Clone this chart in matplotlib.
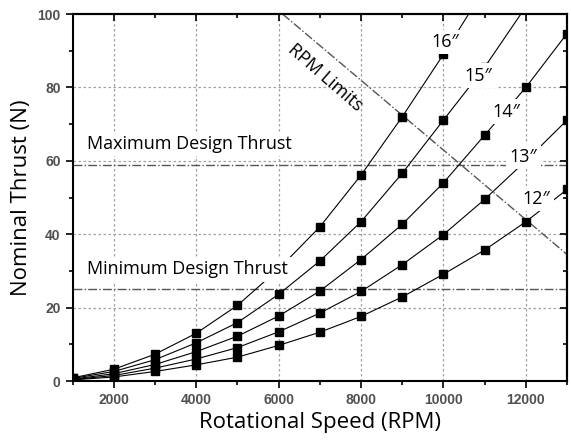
import matplotlib
matplotlib.use("Agg")
import matplotlib.pyplot as plt
import numpy as np

# rotational speed (RPM) and nominal thrust (N) per propeller size
rpm = [1000, 2000, 3000, 4000, 5000, 6000, 7000, 8000, 9000, 10000, 11000, 12000, 13000]
thrust_16 = [0.85, 3.2, 7.3, 13.0, 20.6, 30.5, 42.0, 56.1, 72.0, 89.0, 107.0]
thrust_15 = [0.7, 2.6, 5.8, 10.4, 15.9, 23.6, 32.7, 43.4, 56.6, 71.1, 85.5, 102.0]
thrust_14 = [0.5, 2.0, 4.5, 8.0, 12.2, 17.7, 24.5, 33.1, 42.7, 54.0, 67.0, 80.0, 94.7]
thrust_13 = [0.4, 1.5, 3.5, 6.0, 9.1, 13.4, 18.5, 24.4, 31.7, 39.9, 49.5, 60.0, 71.1]
thrust_12 = [0.3, 1.1, 2.6, 4.4, 6.5, 9.7, 13.3, 17.6, 22.9, 29.1, 35.7, 43.4, 52.2]

series = [thrust_12, thrust_13, thrust_14, thrust_15, thrust_16]
size_labels = ["12\u2033", "13\u2033", "14\u2033", "15\u2033", "16\u2033"]
label_pos = [(12262, 49.7), (11947, 61.1), (11534, 73.4), (10855, 83.2), (10041, 92.4)]

max_thrust = 59
min_thrust = 25
rpm_limit_x = [6100, 13000]
rpm_limit_y = [100, 34.5]

txt_font = ["Open Sans", "DejaVu Sans"]

fig = plt.figure(figsize=(5.71, 4.41), dpi=100)
ax = fig.add_axes([0.127, 0.136, 0.866, 0.832])

# grid
for gx in range(2000, 13000, 2000):
    ax.axvline(gx, color="#a0a0a0", lw=0.9, ls=(0, (2, 2)), zorder=0)
for gy in range(20, 100, 20):
    ax.axhline(gy, color="#a0a0a0", lw=0.9, ls=(0, (2, 2)), zorder=0)

# design thrust limits
ax.axhline(max_thrust, color="#555555", lw=1.0, ls="-.", zorder=1)
ax.axhline(min_thrust, color="#555555", lw=1.0, ls="-.", zorder=1)
ax.plot(rpm_limit_x, rpm_limit_y, color="#555555", lw=1.0, ls="-.", zorder=1)

for vals in series:
    ax.plot(rpm[:len(vals)], vals, color="black", lw=0.8, marker="s",
            ms=6, mfc="black", mec="black", zorder=2)

bbox = dict(facecolor="white", edgecolor="none", pad=2.5)
for lab, (lx, ly) in zip(size_labels, label_pos):
    ax.text(lx, ly, lab, family=txt_font, fontsize=13, ha="center", va="center",
            bbox=bbox, zorder=3)

ax.text(1350, 64.6, "Maximum Design Thrust", family=txt_font, fontsize=13,
        ha="left", va="center", bbox=bbox, zorder=3)
ax.text(1350, 30.4, "Minimum Design Thrust", family=txt_font, fontsize=13,
        ha="left", va="center", bbox=bbox, zorder=3)
ax.text(7129, 82.7, "RPM Limits", family=txt_font, fontsize=13, rotation=-41,
        rotation_mode="anchor", ha="center", va="center", zorder=3)

ax.set_xlim(1000, 13000)
ax.set_ylim(0, 100)
ax.set_xticks(range(2000, 13000, 2000))
ax.set_xticks(range(1000, 13001, 1000), minor=True)
ax.set_yticks(range(0, 101, 20))
ax.set_yticks(range(0, 101, 10), minor=True)

ax.tick_params(which="major", direction="out", length=5, width=1.2)
ax.tick_params(which="minor", direction="out", length=3, width=1.2)
for t in ax.get_xticklabels() + ax.get_yticklabels():
    t.set_family("Liberation Sans")
    t.set_fontsize(10)
    t.set_fontweight("bold")
    t.set_color("#505050")

for sp in ax.spines.values():
    sp.set_linewidth(1.5)

# mirrored ticks pointing inward on top and right
top = ax.secondary_xaxis("top")
top.set_xticks(range(2000, 13000, 2000))
top.set_xticks(range(1000, 13001, 1000), minor=True)
top.tick_params(which="major", direction="in", length=5, width=1.2, labeltop=False)
top.tick_params(which="minor", direction="in", length=3, width=1.2)
top.spines["top"].set_linewidth(1.5)
right = ax.secondary_yaxis("right")
right.set_yticks(range(0, 101, 20))
right.set_yticks(range(0, 101, 10), minor=True)
right.tick_params(which="major", direction="in", length=5, width=1.2, labelright=False)
right.tick_params(which="minor", direction="in", length=3, width=1.2)
right.spines["right"].set_linewidth(1.5)

ax.set_xlabel("Rotational Speed (RPM)", family=txt_font, fontsize=16, labelpad=4)
ax.set_ylabel("Nominal Thrust (N)", family=txt_font, fontsize=16, labelpad=4)

fig.savefig("out.png", dpi=100)
